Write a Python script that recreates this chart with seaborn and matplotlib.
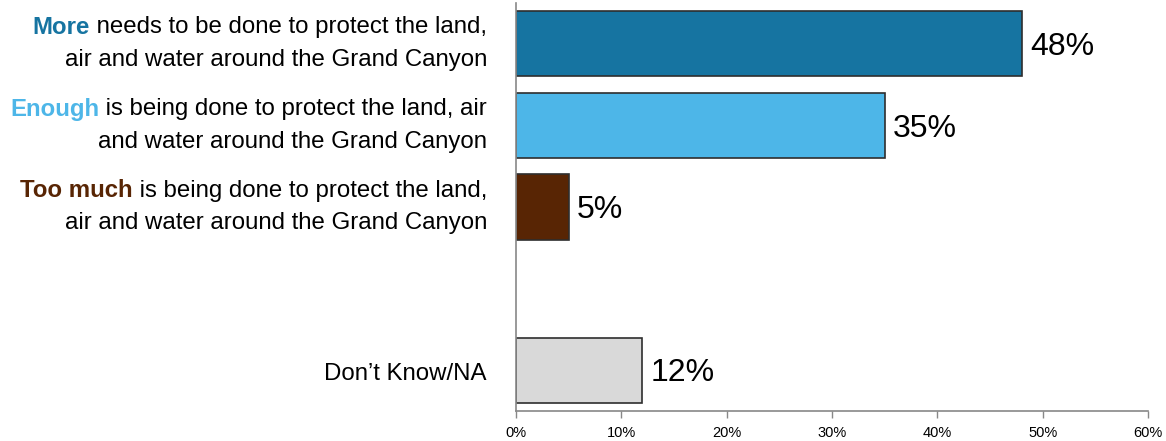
import pandas as pd
import matplotlib.pyplot as plt
import matplotlib
import seaborn as sns
from matplotlib.ticker import PercentFormatter

sns.set_style('white')
plt.rcParams['font.family'] = ['Liberation Sans', 'DejaVu Sans']

# данные
categories = ['More', 'Enough', 'Too much', '', 'Dont know']
values = [48, 35, 5, 12]
bar_cats = ['More', 'Enough', 'Too much', 'Dont know']
colors = ['#1674A1', '#4DB6E8', '#582504', '#D9D9D9']
lead_words = ['More', 'Enough', 'Too much', '']
line1_rest = [' needs to be done to protect the land,',
              ' is being done to protect the land, air',
              ' is being done to protect the land,',
              'Don\u2019t Know/NA']
line2 = ['air and water around the Grand Canyon',
         'and water around the Grand Canyon',
         'air and water around the Grand Canyon',
         '']
tick_vals = [0, 10, 20, 30, 40, 50, 60]

df = pd.DataFrame({'cat': bar_cats, 'val': values})

fig = plt.figure(figsize=(11.66, 4.41), dpi=100)
ax = fig.add_axes([516 / 1166, 1 - 411 / 441, 632 / 1166, 408 / 441])

sns.barplot(data=df, x='val', y='cat', hue='cat', order=categories,
            palette=dict(zip(bar_cats, colors)), legend=False, saturation=1,
            width=0.8, edgecolor='#2e2e2e', linewidth=1.2, ax=ax)

ax.set_xlim(0, 60)
ax.set_xticks(tick_vals)
ax.xaxis.set_major_formatter(PercentFormatter(decimals=0))
ax.tick_params(axis='x', labelsize=10.5, length=5, width=1, color='#888888',
               labelcolor='black', direction='out', bottom=True, pad=6)
ax.set_yticks([])
ax.set_xlabel('')
ax.set_ylabel('')
for s in ['top', 'right']:
    ax.spines[s].set_visible(False)
for s in ['left', 'bottom']:
    ax.spines[s].set_color('#888888')
    ax.spines[s].set_linewidth(1.2)

# подписи значений
for cat, v in zip(bar_cats, values):
    ax.text(v + 0.8, categories.index(cat) + 0.04, f'{v}%', va='center',
            ha='left', fontsize=23, color='black')

# подписи категорий
fig.canvas.draw()
renderer = fig.canvas.get_renderer()
xr = 487 / 1166
trans = matplotlib.transforms.blended_transform_factory(fig.transFigure, ax.transData)
fs = 17.3
for i, cat in enumerate(bar_cats):
    y = categories.index(cat)
    if line2[i] == '':
        fig.text(xr, y + 0.05, line1_rest[i], ha='right', va='center',
                 fontsize=fs, color='black', transform=trans)
        continue
    t1 = fig.text(xr, y - 0.2, line1_rest[i], ha='right', va='center',
                  fontsize=fs, color='black', transform=trans)
    fig.text(xr, y + 0.2, line2[i], ha='right', va='center', fontsize=fs,
             color='black', transform=trans)
    bb = t1.get_window_extent(renderer)
    xl = bb.x0 / fig.bbox.width
    fig.text(xl, y - 0.2, lead_words[i], ha='right', va='center', fontsize=fs,
             fontweight='bold', color=colors[i], transform=trans)

plt.savefig('out.png', dpi=100)
